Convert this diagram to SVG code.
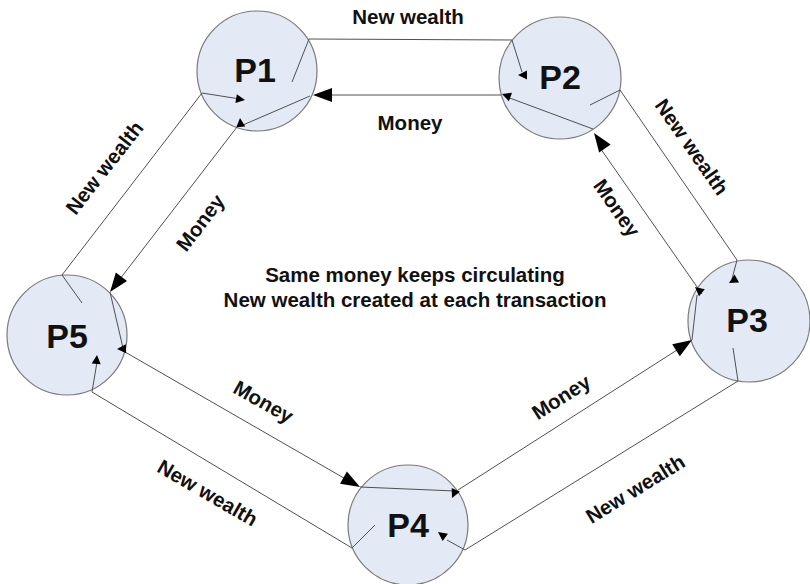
<svg xmlns="http://www.w3.org/2000/svg" xmlns:xlink="http://www.w3.org/1999/xlink" width="810" height="584" viewBox="0 0 810 584">
<style>
.node circle{fill:#e3e9f5;stroke:#7a7a7a;stroke-width:1.2}
.node text{font-family:"Liberation Sans",Arial,sans-serif;font-weight:bold;font-size:34px;fill:#111;text-anchor:middle}
.edge{fill:none;stroke:#505050;stroke-width:1}
.lbl{font-family:"Liberation Sans",Arial,sans-serif;font-weight:bold;font-size:20.5px;fill:#111;text-anchor:middle}
.ah{fill:#000}
</style>
<defs>
<path id="big" d="M0,0 L-19,-7 L-19,7 Z"/>
<path id="small" d="M0,0 L-9,-4.5 L-9,4.5 Z"/>
</defs>
<rect width="810" height="584" fill="#fff"/>
<g id="P1" class="node"><circle cx="257" cy="71" r="60"/><text x="255" y="82">P1</text></g>
<g id="P2" class="node"><circle cx="560" cy="78" r="61"/><text x="560" y="89">P2</text></g>
<g id="P3" class="node"><circle cx="749" cy="321" r="61"/><text x="747" y="332">P3</text></g>
<g id="P4" class="node"><circle cx="408" cy="525" r="60"/><text x="408" y="537">P4</text></g>
<g id="P5" class="node"><circle cx="67" cy="335" r="60"/><text x="67" y="348">P5</text></g>
<g id="connectors">
<polyline class="edge" points="292,82 309,39 512,40 522,72"/>
<polyline class="edge" points="590,105 620,90 737,260 732,279"/>
<polyline class="edge" points="733,348 738,381 465,550 447,540"/>
<polyline class="edge" points="375,525 352,548 92,392 97,362"/>
<polyline class="edge" points="82,303 62,275 202,93 240,99"/>
<line class="edge" x1="501" y1="95" x2="318" y2="95"/>
<line class="edge" x1="310" y1="96" x2="243" y2="125"/>
<line class="edge" x1="702" y1="294" x2="598" y2="145"/>
<line class="edge" x1="593" y1="129" x2="507" y2="97"/>
<line class="edge" x1="237" y1="127" x2="113" y2="288"/>
<line class="edge" x1="110" y1="292" x2="123" y2="348"/>
<line class="edge" x1="125" y1="352" x2="356" y2="485"/>
<line class="edge" x1="360" y1="487" x2="455" y2="491"/>
<line class="edge" x1="458" y1="490" x2="688" y2="343"/>
<line class="edge" x1="692" y1="340" x2="697" y2="295"/>
<use href="#big" class="ah" transform="translate(313,95) rotate(180)"/>
<use href="#big" class="ah" transform="translate(594,133) rotate(-125)"/>
<use href="#big" class="ah" transform="translate(110,292) rotate(127)"/>
<use href="#big" class="ah" transform="translate(360,487) rotate(29.5)"/>
<use href="#big" class="ah" transform="translate(692,340) rotate(-32.7)"/>
<use href="#small" class="ah" transform="translate(245,100) rotate(9)"/>
<use href="#small" class="ah" transform="translate(240,118) rotate(-95)"/>
<use href="#small" class="ah" transform="translate(518,75) rotate(180)"/>
<use href="#small" class="ah" transform="translate(502,94) rotate(-160)"/>
<use href="#small" class="ah" transform="translate(729,283) rotate(150)"/>
<use href="#small" class="ah" transform="translate(695,287) rotate(-140)"/>
<use href="#small" class="ah" transform="translate(452,498) rotate(115)"/>
<use href="#small" class="ah" transform="translate(438,532) rotate(-144)"/>
<use href="#small" class="ah" transform="translate(117,349) rotate(178)"/>
<use href="#small" class="ah" transform="translate(97,355) rotate(-85)"/>
</g>
<g id="labels">
<text class="lbl" x="408" y="24">New wealth</text>
<text class="lbl" x="410" y="130">Money</text>
<text class="lbl" transform="translate(110,172) rotate(-52)">New wealth</text>
<text class="lbl" transform="translate(206,227) rotate(-52.7)">Money</text>
<text class="lbl" transform="translate(686,151) rotate(55)">New wealth</text>
<text class="lbl" transform="translate(611,212) rotate(55)">Money</text>
<text class="lbl" transform="translate(260,408) rotate(29.5)">Money</text>
<text class="lbl" transform="translate(204,499) rotate(30)">New wealth</text>
<text class="lbl" transform="translate(565,403) rotate(-32.7)">Money</text>
<text class="lbl" transform="translate(639,495) rotate(-31.6)">New wealth</text>
<text class="lbl" x="415" y="282">Same money keeps circulating</text>
<text class="lbl" x="415" y="307">New wealth created at each transaction</text>
</g>
</svg>
